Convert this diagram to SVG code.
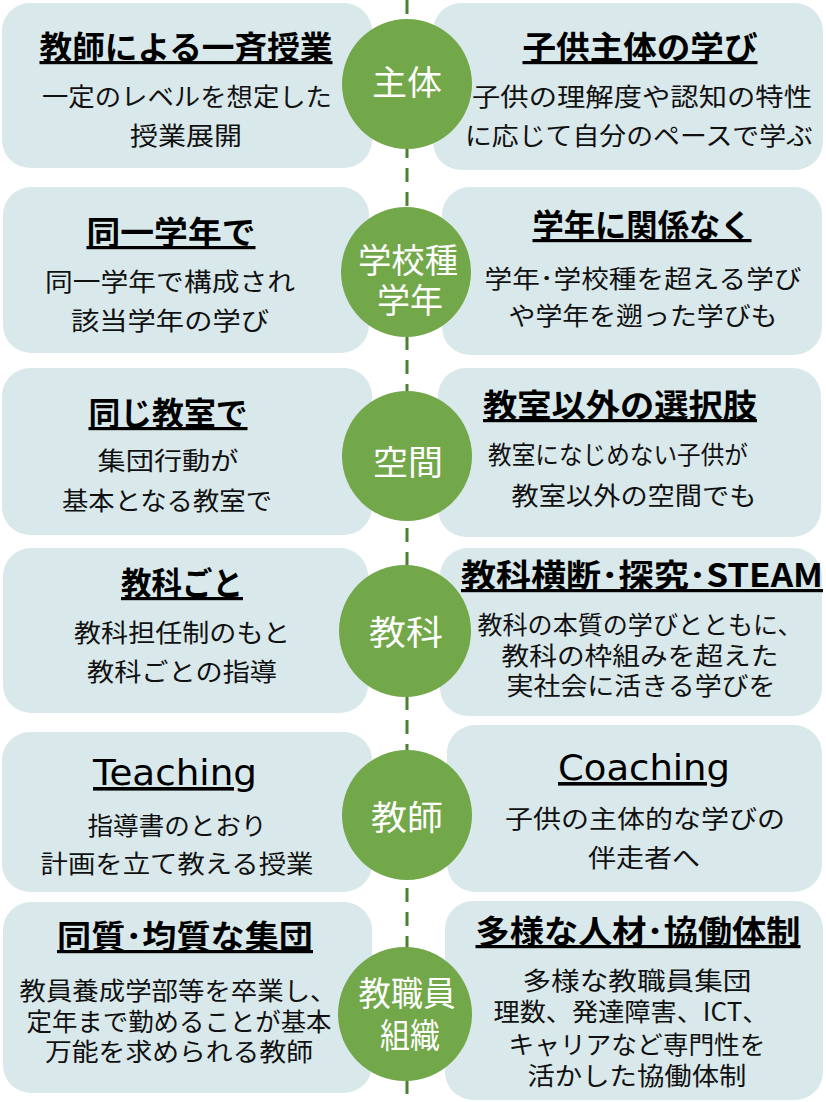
<svg xmlns="http://www.w3.org/2000/svg" width="826" height="1102" viewBox="0 0 826 1102">
<style>
.box{fill:#d9e8ea}
.hub{fill:#72a74a}
.t{font-family:"Noto Sans CJK JP",sans-serif;font-size:32px;font-weight:700;fill:#000;text-anchor:middle;text-decoration:underline}
.te{font-family:"DejaVu Sans","Noto Sans CJK JP",sans-serif;font-size:36px;font-weight:400;fill:#000;text-anchor:middle;text-decoration:underline}
.b{font-family:"Noto Sans CJK JP",sans-serif;font-size:25px;fill:#111;text-anchor:middle}
.c{font-family:"Noto Sans CJK JP",sans-serif;font-size:34px;fill:#fff;text-anchor:middle}
</style>
<rect width="826" height="1102" fill="#fff"/>
<g id="connectors">
<line x1="407" y1="0" x2="407" y2="1102" stroke="#4f7f32" stroke-width="3" stroke-dasharray="14 10"/>
</g>

<g id="row1-left">
<rect class="box" x="2" y="3" width="370" height="165" rx="28"/>
<text class="t" x="186" y="59" textLength="293" lengthAdjust="spacingAndGlyphs">教師による一斉授業</text>
<text class="b" x="187" y="106" textLength="290" lengthAdjust="spacingAndGlyphs">一定のレベルを想定した</text>
<text class="b" x="186" y="145" textLength="112" lengthAdjust="spacingAndGlyphs">授業展開</text>
</g>
<g id="row1-right">
<rect class="box" x="433" y="3" width="390" height="167" rx="28"/>
<text class="t" x="640" y="59" textLength="235" lengthAdjust="spacingAndGlyphs">子供主体の学び</text>
<text class="b" x="642" y="106" textLength="340" lengthAdjust="spacingAndGlyphs">子供の理解度や認知の特性</text>
<text class="b" x="639" y="145" textLength="348" lengthAdjust="spacingAndGlyphs">に応じて自分のペースで学ぶ</text>
</g>
<g id="row1-hub">
<circle class="hub" cx="407" cy="84" r="65"/>
<text class="c" x="407" y="95" textLength="70" lengthAdjust="spacingAndGlyphs">主体</text>
</g>

<g id="row2-left">
<rect class="box" x="3" y="187" width="366" height="166" rx="28"/>
<text class="t" x="171" y="244" textLength="169" lengthAdjust="spacingAndGlyphs">同一学年で</text>
<text class="b" x="170" y="291" font-size="27" textLength="250" lengthAdjust="spacingAndGlyphs">同一学年で構成され</text>
<text class="b" x="170" y="330" font-size="27" textLength="198" lengthAdjust="spacingAndGlyphs">該当学年の学び</text>
</g>
<g id="row2-right">
<rect class="box" x="442" y="187" width="380" height="168" rx="28"/>
<text class="t" x="642" y="237" textLength="219" lengthAdjust="spacingAndGlyphs">学年に関係なく</text>
<text class="b" x="643" y="288" font-size="27" textLength="317" lengthAdjust="spacingAndGlyphs">学年･学校種を超える学び</text>
<text class="b" x="643" y="325" font-size="27" textLength="269" lengthAdjust="spacingAndGlyphs">や学年を遡った学びも</text>
</g>
<g id="row2-hub">
<circle class="hub" cx="406" cy="272" r="65"/>
<text class="c" x="408" y="273" textLength="100" lengthAdjust="spacingAndGlyphs">学校種</text>
<text class="c" x="410" y="313" textLength="66" lengthAdjust="spacingAndGlyphs">学年</text>
</g>

<g id="row3-left">
<rect class="box" x="2" y="368" width="370" height="167" rx="28"/>
<text class="t" x="168" y="425" textLength="159" lengthAdjust="spacingAndGlyphs">同じ教室で</text>
<text class="b" x="168" y="470" textLength="141" lengthAdjust="spacingAndGlyphs">集団行動が</text>
<text class="b" x="167" y="510" textLength="210" lengthAdjust="spacingAndGlyphs">基本となる教室で</text>
</g>
<g id="row3-right">
<rect class="box" x="438" y="368" width="383" height="169" rx="28"/>
<text class="t" x="620" y="417" textLength="274" lengthAdjust="spacingAndGlyphs">教室以外の選択肢</text>
<text class="b" x="618" y="464" textLength="260" lengthAdjust="spacingAndGlyphs">教室になじめない子供が</text>
<text class="b" x="634" y="505" textLength="245" lengthAdjust="spacingAndGlyphs">教室以外の空間でも</text>
</g>
<g id="row3-hub">
<circle class="hub" cx="407" cy="456" r="65"/>
<text class="c" x="408" y="475" textLength="70" lengthAdjust="spacingAndGlyphs">空間</text>
</g>

<g id="row4-left">
<rect class="box" x="3" y="548" width="365" height="165" rx="28"/>
<text class="t" x="182" y="595" textLength="122" lengthAdjust="spacingAndGlyphs">教科ごと</text>
<text class="b" x="182" y="642" textLength="216" lengthAdjust="spacingAndGlyphs">教科担任制のもと</text>
<text class="b" x="182" y="681" textLength="190" lengthAdjust="spacingAndGlyphs">教科ごとの指導</text>
</g>
<g id="row4-right">
<rect class="box" x="440" y="548" width="382" height="168" rx="28"/>
<text class="t" x="642" y="587" textLength="362" lengthAdjust="spacingAndGlyphs">教科横断･探究･STEAM</text>
<text class="b" x="640" y="634" font-size="26" textLength="325" lengthAdjust="spacingAndGlyphs">教科の本質の学びとともに、</text>
<text class="b" x="640" y="665" font-size="26" textLength="277" lengthAdjust="spacingAndGlyphs">教科の枠組みを超えた</text>
<text class="b" x="641" y="695" font-size="26" textLength="269" lengthAdjust="spacingAndGlyphs">実社会に活きる学びを</text>
</g>
<g id="row4-hub">
<circle class="hub" cx="405" cy="631" r="66"/>
<text class="c" x="406" y="645" textLength="74" lengthAdjust="spacingAndGlyphs">教科</text>
</g>

<g id="row5-left">
<rect class="box" x="2" y="732" width="370" height="160" rx="28"/>
<text class="te" x="175" y="785" textLength="164" lengthAdjust="spacingAndGlyphs">Teaching</text>
<text class="b" x="177" y="835" textLength="179" lengthAdjust="spacingAndGlyphs">指導書のとおり</text>
<text class="b" x="177" y="873" textLength="273" lengthAdjust="spacingAndGlyphs">計画を立て教える授業</text>
</g>
<g id="row5-right">
<rect class="box" x="447" y="725" width="375" height="167" rx="28"/>
<text class="te" x="644" y="780" textLength="172" lengthAdjust="spacingAndGlyphs">Coaching</text>
<text class="b" x="645" y="828" textLength="280" lengthAdjust="spacingAndGlyphs">子供の主体的な学びの</text>
<text class="b" x="644" y="867" textLength="112" lengthAdjust="spacingAndGlyphs">伴走者へ</text>
</g>
<g id="row5-hub">
<circle class="hub" cx="407" cy="815" r="65"/>
<text class="c" x="407" y="830" textLength="72" lengthAdjust="spacingAndGlyphs">教師</text>
</g>

<g id="row6-left">
<rect class="box" x="3" y="902" width="369" height="191" rx="28"/>
<text class="t" x="185" y="948" textLength="256" lengthAdjust="spacingAndGlyphs">同質･均質な集団</text>
<text class="b" x="178" y="1000" font-size="28" textLength="317" lengthAdjust="spacingAndGlyphs">教員養成学部等を卒業し、</text>
<text class="b" x="179" y="1031" font-size="28" textLength="305" lengthAdjust="spacingAndGlyphs">定年まで勤めることが基本</text>
<text class="b" x="179" y="1061" font-size="28" textLength="268" lengthAdjust="spacingAndGlyphs">万能を求められる教師</text>
</g>
<g id="row6-right">
<rect class="box" x="445" y="901" width="378" height="199" rx="28"/>
<text class="t" x="638" y="943" textLength="325" lengthAdjust="spacingAndGlyphs">多様な人材･協働体制</text>
<text class="b" x="637" y="990" font-size="27" textLength="229" lengthAdjust="spacingAndGlyphs">多様な教職員集団</text>
<text class="b" x="631" y="1021" font-size="27" textLength="275" lengthAdjust="spacingAndGlyphs">理数、発達障害、ICT、</text>
<text class="b" x="637" y="1054" font-size="27" textLength="257" lengthAdjust="spacingAndGlyphs">キャリアなど専門性を</text>
<text class="b" x="637" y="1085" font-size="27" textLength="219" lengthAdjust="spacingAndGlyphs">活かした協働体制</text>
</g>
<g id="row6-hub">
<circle class="hub" cx="405" cy="1014" r="67"/>
<text class="c" x="407" y="1006" textLength="97" lengthAdjust="spacingAndGlyphs">教職員</text>
<text class="c" x="410" y="1048" textLength="60" lengthAdjust="spacingAndGlyphs">組織</text>
</g>
</svg>
